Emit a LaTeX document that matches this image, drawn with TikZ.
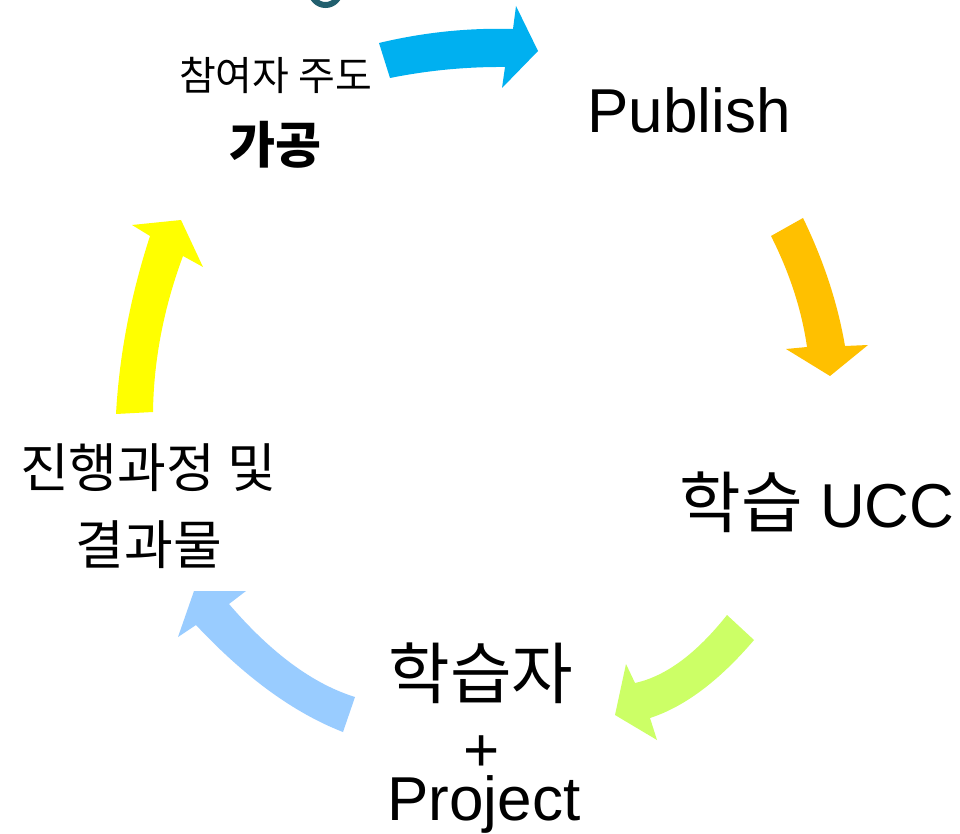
\documentclass[tikz,border=0pt]{standalone}
\usepackage{fontspec}
\setmainfont{Liberation Sans}
\newfontfamily\kr{Noto Sans CJK KR}
\definecolor{cblue}{HTML}{00B0F0}
\definecolor{corange}{HTML}{FFC000}
\definecolor{cgreen}{HTML}{CCFF66}
\definecolor{clblue}{HTML}{99CCFF}
\definecolor{cyellow}{HTML}{FFFF00}
\definecolor{cteal}{HTML}{215F6E}
\begin{document}
\begin{tikzpicture}[x=1pt,y=-1pt,
  lbl/.style={inner sep=0pt, text=black},
  bigfont/.style={font=\fontsize{62}{74}\selectfont},
  krbig/.style={font=\kr\fontsize{67}{80}\selectfont}]
\useasboundingbox (0,0) rectangle (960,834);
\fill[white] (0,0) rectangle (960,834);
\begin{scope}
\clip (0,0) rectangle (960,834);
\draw[cteal, line width=6pt] (325.5,-9.5) circle (14.5pt);
\end{scope}
% cycle arrows
\fill[cblue] (379,43) .. controls (423.7,32.3) and (468.3,27.7) .. (513,29) -- (516,6) -- (538,51) -- (502,88) -- (505,67) .. controls (466.7,66.7) and (428.3,70.3) .. (390,78) -- cycle;
\fill[corange] (771,236) -- (803,218) .. controls (823.7,260.7) and (837.7,303.3) .. (845,346) -- (868,345) -- (830,376) -- (786,349) -- (807,347) .. controls (801.7,310) and (789.7,273) .. (771,236) -- cycle;
\fill[cgreen] (727,615) -- (754,640) .. controls (719.3,680.7) and (684.7,706.7) .. (650,718) -- (657,740) -- (615,715) -- (626,664) -- (635,683) .. controls (665.7,676.3) and (696.3,653.7) .. (727,615) -- cycle;
\fill[clblue] (355,697) .. controls (313,684) and (271,653) .. (229,604) -- (246,591) -- (194,591) -- (178,637) -- (196,625) .. controls (245,677.3) and (294,713) .. (343,732) -- cycle;
\fill[cyellow] (116,414) .. controls (119.3,354.7) and (130.7,295.3) .. (150,236) -- (132,225) -- (181,220) -- (203,267) -- (183,256) .. controls (163.7,308) and (153.7,360) .. (153,412) -- cycle;
% labels
\node[lbl, font=\kr\fontsize{40}{48}\selectfont] (lead) at (275.5,75) {참여자 주도};
\node[lbl, font=\kr\bfseries\fontsize{50}{60}\selectfont] (gagong) at (275,145) {가공};
\node[lbl, bigfont, anchor=base] (publish) at (689,133) {Publish};
\node[lbl, bigfont, anchor=base] (ucc) at (817,527) {{\kr\fontsize{67}{80}\selectfont 학습} UCC};
\node[lbl, krbig] (learner) at (481,673) {학습자};
\node[lbl, bigfont] (plus) at (482,754) {+};
\node[lbl, bigfont, anchor=base] (project) at (484,820) {Project};
\node[lbl, font=\kr\fontsize{53}{64}\selectfont] (progress) at (148,468) {진행과정 및};
\node[lbl, font=\kr\fontsize{53}{64}\selectfont] (result) at (149,545) {결과물};
\end{tikzpicture}
\end{document}
